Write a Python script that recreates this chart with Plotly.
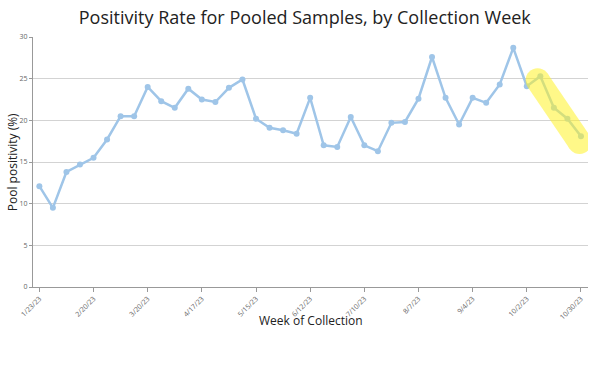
import plotly.graph_objects as go

weeks = ["1/23/23", "1/30/23", "2/6/23", "2/13/23", "2/20/23", "2/27/23", "3/6/23", "3/13/23",
         "3/20/23", "3/27/23", "4/3/23", "4/10/23", "4/17/23", "4/24/23", "5/1/23", "5/8/23",
         "5/15/23", "5/22/23", "5/29/23", "6/5/23", "6/12/23", "6/19/23", "6/26/23", "7/3/23",
         "7/10/23", "7/17/23", "7/24/23", "7/31/23", "8/7/23", "8/14/23", "8/21/23", "8/28/23",
         "9/4/23", "9/11/23", "9/18/23", "9/25/23", "10/2/23", "10/9/23", "10/16/23", "10/23/23",
         "10/30/23"]
positivity = [12.1, 9.5, 13.8, 14.7, 15.5, 17.7, 20.5, 20.5, 24.0, 22.3, 21.5, 23.8, 22.5, 22.2,
              23.9, 24.9, 20.2, 19.1, 18.8, 18.4, 22.7, 17.0, 16.8, 20.4, 17.0, 16.3, 19.7, 19.8,
              22.6, 27.6, 22.7, 19.5, 22.7, 22.1, 24.3, 28.7, 24.1, 25.3, 21.5, 20.2, 18.1]
tick_labels = ["1/23/23", "2/20/23", "3/20/23", "4/17/23", "5/15/23", "6/12/23", "7/10/23",
               "8/7/23", "9/4/23", "10/2/23", "10/30/23"]
highlight_x = [36.8, 39.9]
highlight_y = [24.8, 17.4]

idx = list(range(len(weeks)))
tickvals = [weeks.index(t) for t in tick_labels]

fig = go.Figure()
fig.add_trace(go.Scatter(
    x=idx, y=positivity, mode="lines+markers",
    line=dict(color="#9fc5e8", width=2.5),
    marker=dict(color="#9fc5e8", size=6),
    hoverinfo="skip", showlegend=False))
fig.add_trace(go.Scatter(
    x=highlight_x, y=highlight_y, mode="lines+markers",
    line=dict(color="rgb(255,243,40)", width=24),
    marker=dict(color="rgb(255,243,40)", size=24, line=dict(width=0)),
    opacity=0.55, hoverinfo="skip", showlegend=False))

axis_font = dict(family="Open Sans", size=7, color="#666")
title_font = dict(family="Open Sans", size=12, color="#222")
fig.update_layout(
    width=600, height=378,
    margin=dict(l=33, r=12, t=37, b=91),
    paper_bgcolor="white", plot_bgcolor="white",
    hovermode=False,
    title=dict(text="Positivity Rate for Pooled Samples, by Collection Week",
               x=0.508, xanchor="center", y=0.952, yanchor="middle",
               font=dict(family="Open Sans", size=18, color="#222")),
    xaxis=dict(range=[-0.47, 40.52], tickmode="array", tickvals=tickvals, ticktext=tick_labels,
               tickangle=-45, tickfont=axis_font, showgrid=False, zeroline=False, automargin=False,
               showline=True, linecolor="#999", linewidth=1, ticks="outside", ticklen=4,
               tickcolor="#999"),
    yaxis=dict(range=[0, 30], tickvals=[0, 5, 10, 15, 20, 25, 30], tickfont=axis_font,
               showgrid=True, gridcolor="#d3d3d3", gridwidth=1, zeroline=False, automargin=False,
               showline=True, linecolor="#999", linewidth=1, ticks="outside", ticklen=3,
               tickcolor="#999"),
    annotations=[
        dict(text="Week of Collection", xref="paper", yref="paper", x=0.5, y=-0.135,
             xanchor="center", yanchor="middle", showarrow=False, font=title_font),
        dict(text="Pool positivity (%)", xref="paper", yref="paper", x=-0.0375, y=0.5,
             xanchor="center", yanchor="middle", textangle=-90, xshift=0, showarrow=False,
             font=title_font),
    ],
)
fig.write_html("out.html", config={"displayModeBar": False},
               post_script="document.body.style.margin='0';")
